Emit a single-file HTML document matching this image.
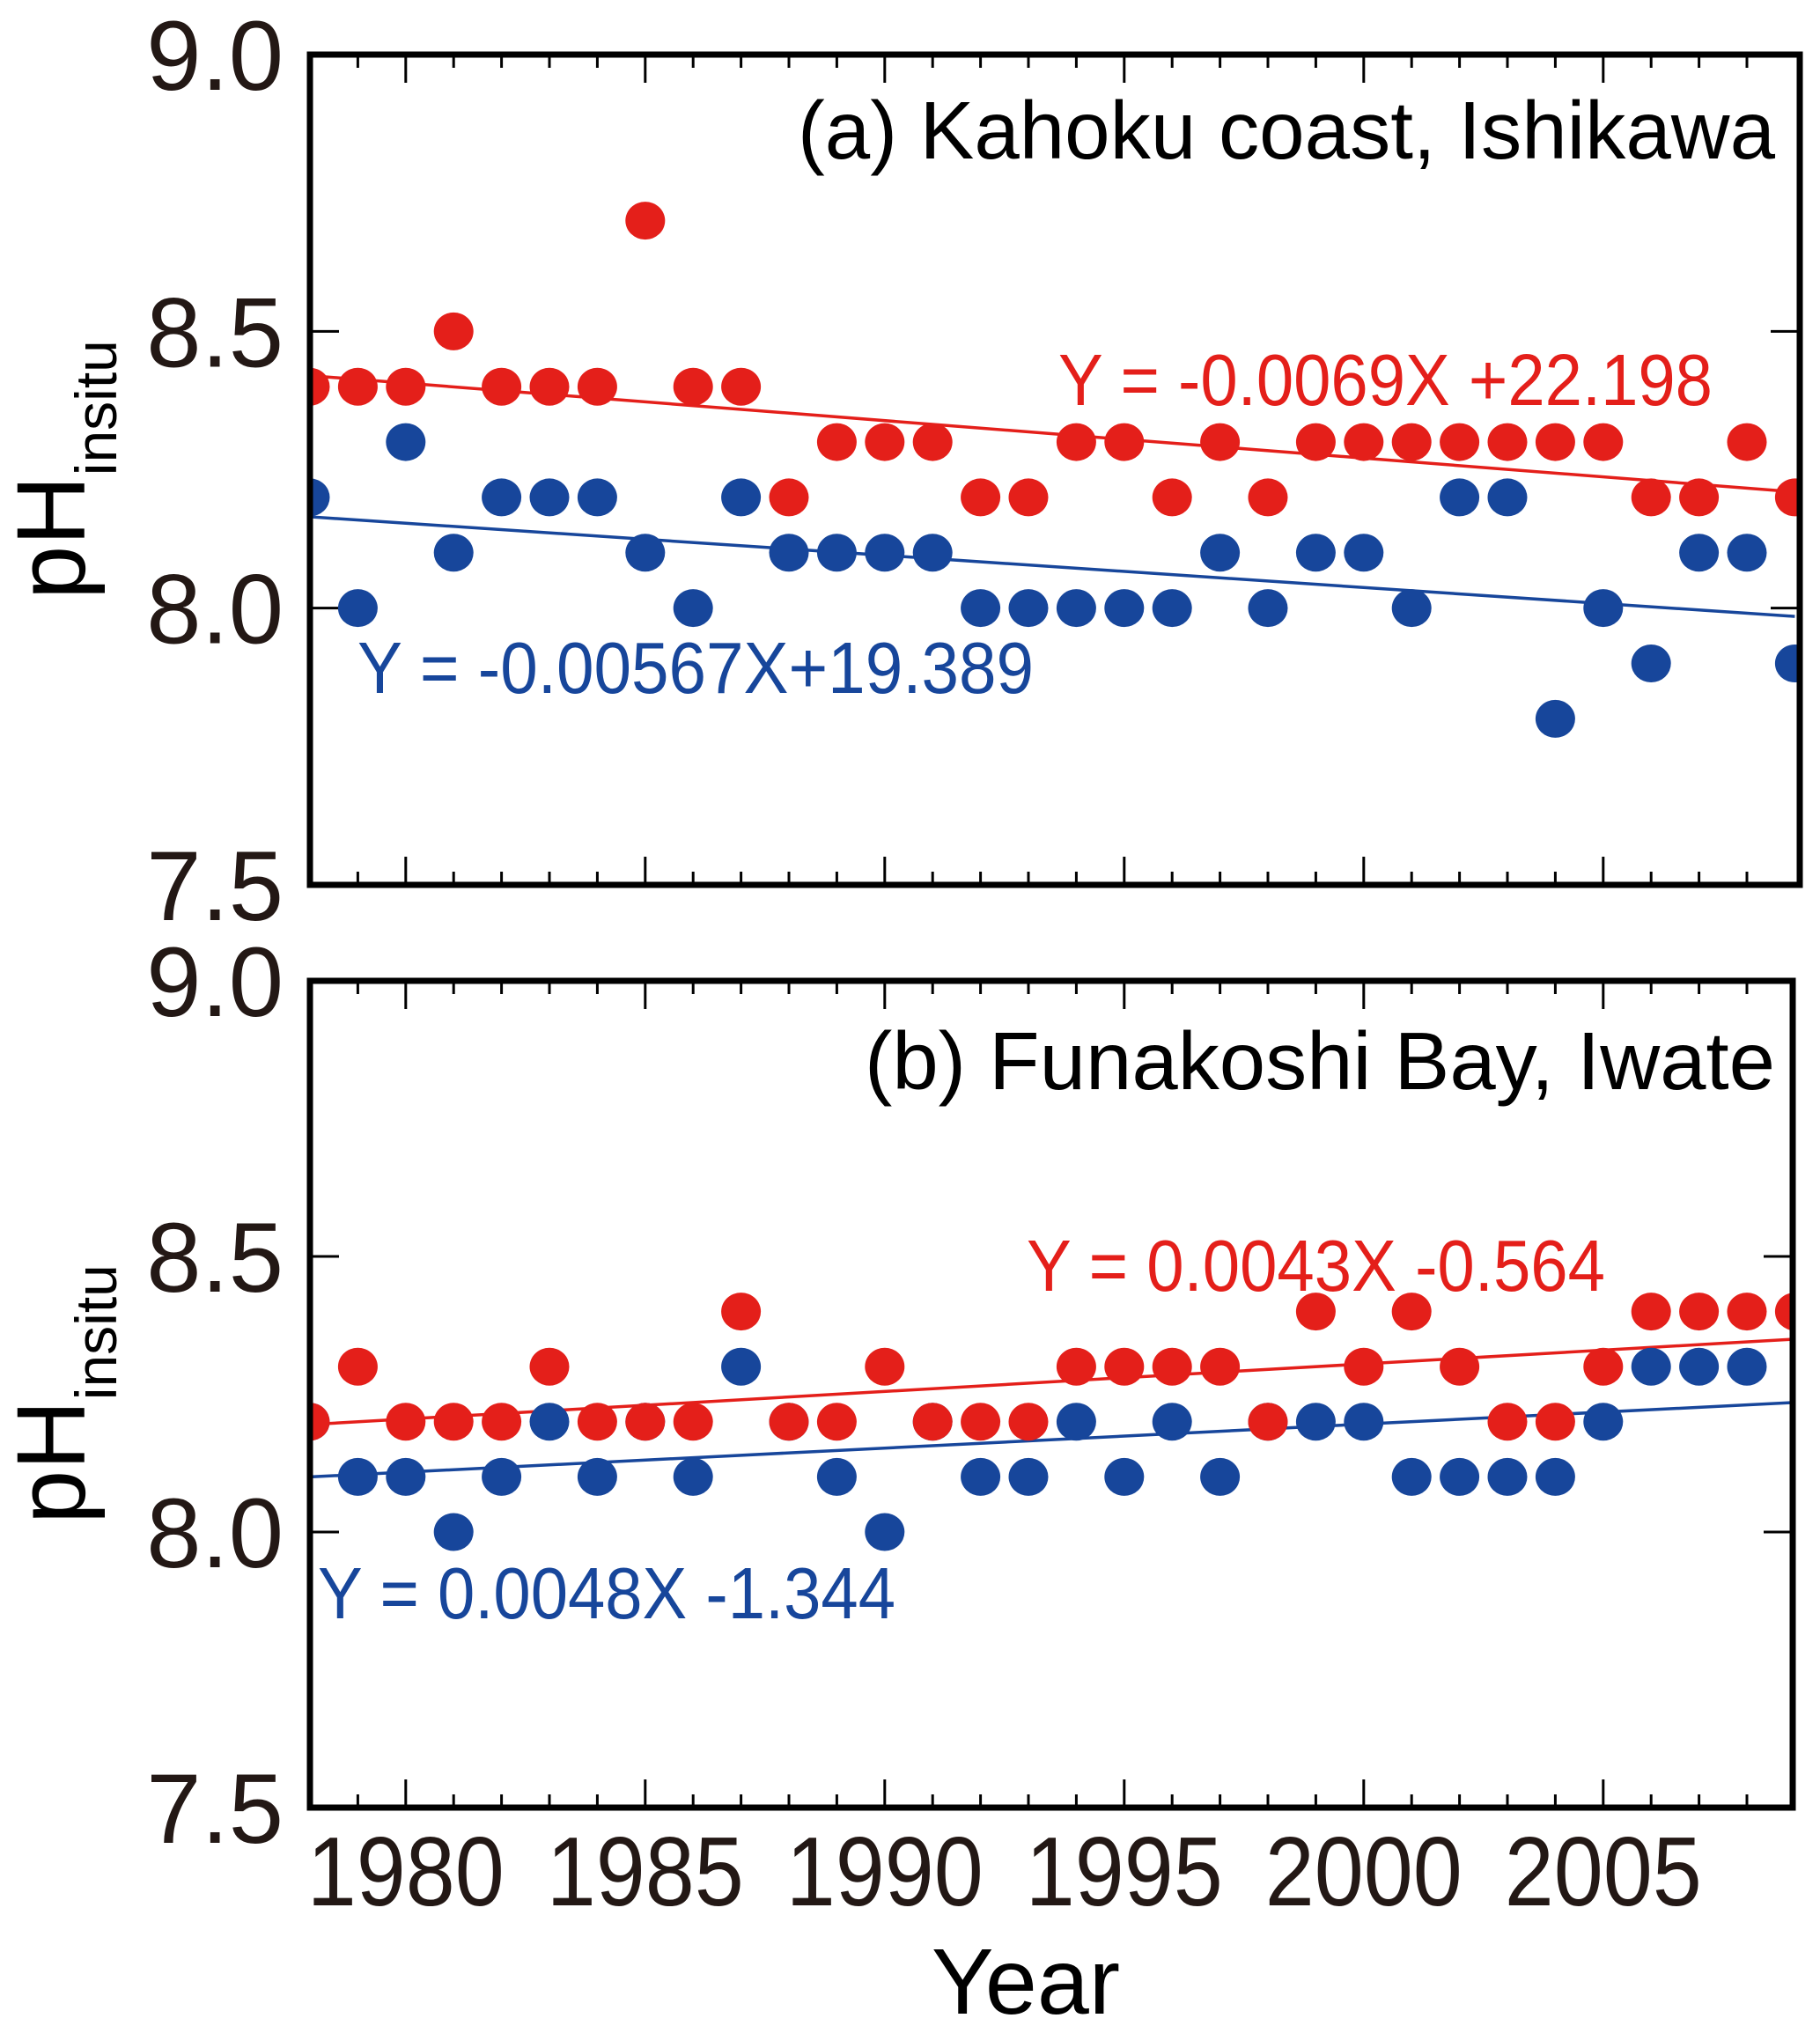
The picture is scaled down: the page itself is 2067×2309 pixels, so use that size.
<!DOCTYPE html>
<html><head><meta charset="utf-8"><style>
html,body{margin:0;padding:0;background:#fff;}
svg{display:block;font-family:"Liberation Sans",Arial,sans-serif;}
</style></head><body>
<svg id="chart" width="2067" height="2309" viewBox="0 0 2067 2309" xmlns="http://www.w3.org/2000/svg">
<g id="layer"></g>
</svg>
<script>
const years = [1978,1979,1980,1981,1982,1983,1984,1985,1986,1987,1988,1989,1990,1991,1992,1993,1994,1995,1996,1997,1998,1999,2000,2001,2002,2003,2004,2005,2006,2007,2008,2009];
const redA = [8.4,8.4,8.4,8.5,8.4,8.4,8.4,8.7,8.4,8.4,8.2,8.3,8.3,8.3,8.2,8.2,8.3,8.3,8.2,8.3,8.2,8.3,8.3,8.3,8.3,8.3,8.3,8.3,8.2,8.2,8.3,8.2];
const blueA = [8.2,8.0,8.3,8.1,8.2,8.2,8.2,8.1,8.0,8.2,8.1,8.1,8.1,8.1,8.0,8.0,8.0,8.0,8.0,8.1,8.0,8.1,8.1,8.0,8.2,8.2,7.8,8.0,7.9,8.1,8.1,7.9];
const redB = [8.2,8.3,8.2,8.2,8.2,8.3,8.2,8.2,8.2,8.4,8.2,8.2,8.3,8.2,8.2,8.2,8.3,8.3,8.3,8.3,8.2,8.4,8.3,8.4,8.3,8.2,8.2,8.3,8.4,8.4,8.4,8.4];
const blueB = [8.2,8.1,8.1,8.0,8.1,8.2,8.1,8.2,8.1,8.3,8.2,8.1,8.0,8.2,8.1,8.1,8.2,8.1,8.2,8.1,8.2,8.2,8.2,8.1,8.1,8.1,8.1,8.2,8.3,8.3,8.3,null];
const trendYears = [1978,2009];
const trendRedA = [8.42,8.21];
const trendBlueA = [8.165,7.985];
const trendRedB = [8.195,8.35];
const trendBlueB = [8.10,8.235];
const yTicks = [9.0,8.5,8.0,7.5];
const yTickLabels = ["9.0","8.5","8.0","7.5"];
const xMajor = [1980,1985,1990,1995,2000,2005];
const xLabels = ["1980","1985","1990","1995","2000","2005"];

const NS="http://www.w3.org/2000/svg";
const layer=document.getElementById('layer');
const RED="#e41f1a", BLUE="#17469b", INK="#231815";
function el(tag,attrs,parent){const e=document.createElementNS(NS,tag);for(const k in attrs)e.setAttribute(k,attrs[k]);(parent||layer).appendChild(e);return e;}

const X0=352, PX=54.4;
function xs(yr){return X0+(yr-1978)*PX;}

function panel(name,top,bottom,right,red,blue,tr,tb,title,titleBase,eqR,eqB){
  const g=el('g',{});
  
  
  const ys=v=>bottom-(v-7.5)/1.5*(bottom-top);
  // y tick labels
  yTicks.forEach((v,i)=>{
    const t=el('text',{x:322,y:ys(v)+40,'font-size':112,'text-anchor':'end',fill:INK},g);
    
    
    t.textContent=yTickLabels[i];
  });
  // y ticks inner
  [8.5,8.0].forEach(v=>{
    const a=el('line',{x1:X0,x2:X0+33,y1:ys(v),y2:ys(v),stroke:'#000','stroke-width':3},g);
    
    
    const b=el('line',{x1:right-33,x2:right,y1:ys(v),y2:ys(v),stroke:'#000','stroke-width':3},g);
    
    
  });
  // x ticks
  for(let yr=1979;yr<=2008;yr++){
    const len=xMajor.includes(yr)?32:15;
    const a=el('line',{x1:xs(yr),x2:xs(yr),y1:bottom,y2:bottom-len,stroke:'#000','stroke-width':3},g);
    
    
    const b=el('line',{x1:xs(yr),x2:xs(yr),y1:top,y2:top+len,stroke:'#000','stroke-width':3},g);
    
    
  }
  // ylabel
  const cy=(top+bottom)/2;
  const yl=el('text',{x:0,y:0,'font-size':110,fill:'#000','text-anchor':'middle',transform:`translate(96,${cy}) rotate(-90)`},g);
  
  
  const t1=el('tspan',{},yl);t1.textContent='pH';
  const t2=el('tspan',{'font-size':66,dy:36},yl);t2.textContent='insitu';
  // trend lines
  const lr=el('line',{x1:xs(trendYears[0]),x2:xs(trendYears[1]),y1:ys(tr[0]),y2:ys(tr[1]),stroke:RED,'stroke-width':3.5},g);
  
  
  const lb=el('line',{x1:xs(trendYears[0]),x2:xs(trendYears[1]),y1:ys(tb[0]),y2:ys(tb[1]),stroke:BLUE,'stroke-width':3.5},g);
  
  
  // clip for points
  const cid='clip'+name;
  const cp=el('clipPath',{id:cid},g);
  el('rect',{x:X0,y:top,width:right-X0,height:bottom-top},cp);
  const pts=el('g',{'clip-path':`url(#${cid})`},g);
  blue.forEach((v,i)=>{ if(v==null)return;
    const c=el('ellipse',{cx:xs(years[i]),cy:ys(v),rx:22.5,ry:21.5,fill:BLUE},pts);
    
    
  });
  red.forEach((v,i)=>{ if(v==null)return;
    const c=el('ellipse',{cx:xs(years[i]),cy:ys(v),rx:22.5,ry:21.5,fill:RED},pts);
    
    
  });
  // frame
  const f=el('rect',{x:X0,y:top,width:right-X0,height:bottom-top,fill:'none',stroke:'#000','stroke-width':7},g);
  
  
  // title
  const tt=el('text',{x:2016,y:titleBase,'font-size':93,'text-anchor':'end',fill:'#000',textLength:title[1],lengthAdjust:'spacingAndGlyphs'},g);
  
  
  tt.textContent=title[0];
  const er=el('text',{x:eqR[1],y:eqR[2],'font-size':83,fill:RED,textLength:eqR[3],lengthAdjust:'spacingAndGlyphs'},g);
  
  
  er.textContent=eqR[0];
  const eb=el('text',{x:eqB[1],y:eqB[2],'font-size':83,fill:BLUE,textLength:eqB[3],lengthAdjust:'spacingAndGlyphs'},g);
  
  
  eb.textContent=eqB[0];
}
panel('panel-a',62,1005,2044,redA,blueA,trendRedA,trendBlueA,["(a) Kahoku coast, Ishikawa",1110],180,
  ["Y = -0.0069X +22.198",1202,460,743],["Y = -0.00567X+19.389",406,787,768]);
panel('panel-b',1114,2053,2036,redB,blueB,trendRedB,trendBlueB,["(b) Funakoshi Bay, Iwate",1034],1237,
  ["Y = 0.0043X -0.564",1166,1466,657],["Y = 0.0048X -1.344",361,1838,656]);

xMajor.forEach((yr,i)=>{
  const t=el('text',{x:xs(yr),y:2164,'font-size':111,'text-anchor':'middle',fill:INK,textLength:224,lengthAdjust:'spacingAndGlyphs'});
  
  
  t.textContent=xLabels[i];
});
const xt=el('text',{x:1165,y:2287,'font-size':106,'text-anchor':'middle',fill:'#000'});


xt.textContent='Year';
</script>
</body></html>
